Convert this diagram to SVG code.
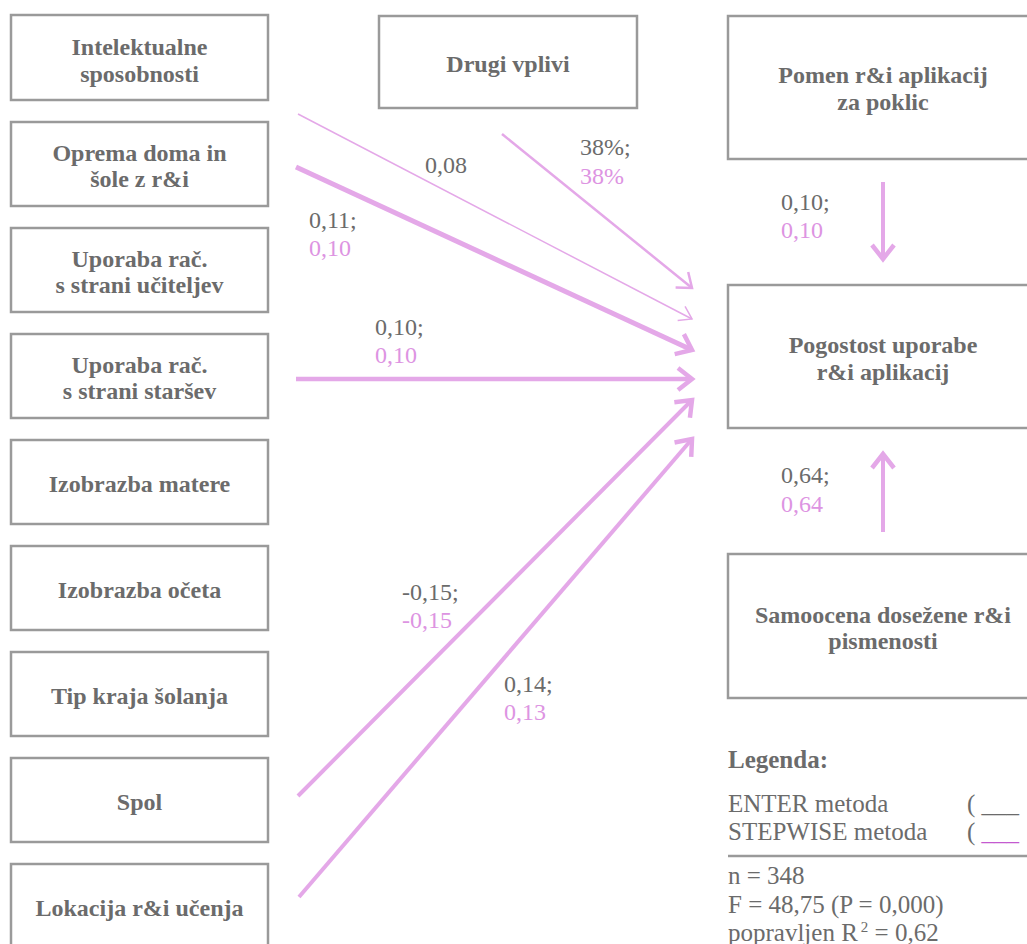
<svg xmlns="http://www.w3.org/2000/svg" width="1027" height="944" viewBox="0 0 1027 944">
<defs>
<style>
.box{fill:#fff;stroke:#9a9a9a;stroke-width:2.5}
.bt{font-family:"Liberation Serif",serif;font-weight:bold;font-size:24px;fill:#6b6b6b;text-anchor:middle}
.lb{font-family:"Liberation Serif",serif;font-size:24px;fill:#6b6b6b}
.pk{fill:#dd94e2}
.ln{fill:none;stroke:#e4a8e8;stroke-linecap:butt}
.lg{font-family:"Liberation Serif",serif;font-size:25px;fill:#6b6b6b}
</style>
<marker id="ahThick" markerUnits="userSpaceOnUse" markerWidth="40" markerHeight="40" viewBox="-20 -20 40 40" refX="0" refY="0" orient="auto" overflow="visible">
<path d="M-14,-11 L0,0 L-14,11" fill="none" stroke="#e4a8e8" stroke-width="4.5"/>
</marker>
<marker id="ahMid" markerUnits="userSpaceOnUse" markerWidth="40" markerHeight="40" viewBox="-20 -20 40 40" refX="0" refY="0" orient="auto" overflow="visible">
<path d="M-13,-10 L0,0 L-13,10" fill="none" stroke="#e4a8e8" stroke-width="2.5"/>
</marker>
<marker id="ahThin" markerUnits="userSpaceOnUse" markerWidth="40" markerHeight="40" viewBox="-20 -20 40 40" refX="0" refY="0" orient="auto" overflow="visible">
<path d="M-12,-8 L0,0 L-12,8" fill="none" stroke="#e4a8e8" stroke-width="1.5"/>
</marker>
</defs>
<rect width="1027" height="944" fill="#fff"/>

<g id="n-intelektualne"><rect class="box" x="11" y="15" width="257" height="85"/><text class="bt" x="139.5" y="55">Intelektualne</text><text class="bt" x="139.5" y="82">sposobnosti</text></g>
<g id="n-oprema"><rect class="box" x="11" y="122" width="257" height="84"/><text class="bt" x="139.5" y="161">Oprema doma in</text><text class="bt" x="139.5" y="187">šole z r&amp;i</text></g>
<g id="n-ucitelji"><rect class="box" x="11" y="228" width="257" height="84"/><text class="bt" x="139.5" y="267">Uporaba rač.</text><text class="bt" x="139.5" y="293">s strani učiteljev</text></g>
<g id="n-starsi"><rect class="box" x="11" y="334" width="257" height="84"/><text class="bt" x="139.5" y="373">Uporaba rač.</text><text class="bt" x="139.5" y="399">s strani staršev</text></g>
<g id="n-mati"><rect class="box" x="11" y="440" width="257" height="84"/><text class="bt" x="139.5" y="492">Izobrazba matere</text></g>
<g id="n-oce"><rect class="box" x="11" y="546" width="257" height="84"/><text class="bt" x="139.5" y="598">Izobrazba očeta</text></g>
<g id="n-kraj"><rect class="box" x="11" y="652" width="257" height="84"/><text class="bt" x="139.5" y="704">Tip kraja šolanja</text></g>
<g id="n-spol"><rect class="box" x="11" y="758" width="257" height="84"/><text class="bt" x="139.5" y="810">Spol</text></g>
<g id="n-lokacija"><rect class="box" x="11" y="864" width="257" height="90"/><text class="bt" x="139.5" y="916">Lokacija r&amp;i učenja</text></g>

<g id="n-drugi"><rect class="box" x="379" y="16" width="258" height="92"/><text class="bt" x="508" y="72">Drugi vplivi</text></g>

<g id="n-pomen"><rect class="box" x="728" y="16" width="320" height="143"/><text class="bt" x="883" y="83">Pomen r&amp;i aplikacij</text><text class="bt" x="883" y="110">za poklic</text></g>
<g id="n-pogostost"><rect class="box" x="728" y="285" width="320" height="143"/><text class="bt" x="883" y="353">Pogostost uporabe</text><text class="bt" x="883" y="380">r&amp;i aplikacij</text></g>
<g id="n-samoocena"><rect class="box" x="728" y="554" width="320" height="144"/><text class="bt" x="883" y="623">Samoocena dosežene r&amp;i</text><text class="bt" x="883" y="649">pismenosti</text></g>

<g id="connectors">
<line class="ln" x1="298" y1="114" x2="692" y2="319" stroke-width="1.5" marker-end="url(#ahThin)"/>
<line class="ln" x1="296" y1="167" x2="692" y2="350" stroke-width="5" marker-end="url(#ahThick)"/>
<line class="ln" x1="502" y1="134" x2="692" y2="288" stroke-width="2.5" marker-end="url(#ahMid)"/>
<line class="ln" x1="296" y1="379" x2="692" y2="379" stroke-width="4.5" marker-end="url(#ahThick)"/>
<line class="ln" x1="298" y1="796" x2="692" y2="400" stroke-width="4" marker-end="url(#ahThick)"/>
<line class="ln" x1="299" y1="897" x2="692" y2="439" stroke-width="4" marker-end="url(#ahThick)"/>
<line class="ln" x1="883" y1="182" x2="883" y2="259" stroke-width="4" marker-end="url(#ahThick)"/>
<line class="ln" x1="883" y1="532" x2="883" y2="454" stroke-width="4" marker-end="url(#ahThick)"/>
</g>

<g id="labels">
<text class="lb" x="425" y="173">0,08</text>
<text class="lb" x="580" y="155">38%;</text><text class="lb pk" x="580" y="184">38%</text>
<text class="lb" x="309" y="228">0,11;</text><text class="lb pk" x="309" y="256">0,10</text>
<text class="lb" x="375" y="335">0,10;</text><text class="lb pk" x="375" y="363">0,10</text>
<text class="lb" x="402" y="600">-0,15;</text><text class="lb pk" x="402" y="628">-0,15</text>
<text class="lb" x="504" y="692">0,14;</text><text class="lb pk" x="504" y="720">0,13</text>
<text class="lb" x="781" y="210">0,10;</text><text class="lb pk" x="781" y="238">0,10</text>
<text class="lb" x="781" y="483">0,64;</text><text class="lb pk" x="781" y="512">0,64</text>
</g>

<g id="legend">
<text class="lg" x="728" y="768" font-weight="bold">Legenda:</text>
<text class="lg" x="728" y="812">ENTER metoda</text>
<text class="lg" x="967" y="812">( ___</text>
<text class="lg" x="728" y="840">STEPWISE metoda</text>
<text class="lg" x="967" y="840">( <tspan fill="#c45ad0">___</tspan></text>
<line x1="728" y1="856" x2="1027" y2="856" stroke="#9a9a9a" stroke-width="2.5"/>
<text class="lg" x="728" y="884">n = 348</text>
<text class="lg" x="728" y="913">F = 48,75 (P = 0,000)</text>
<text class="lg" x="728" y="941">popravljen R<tspan dx="3" dy="-9" font-size="15">2</tspan><tspan dy="9"> = 0,62</tspan></text>
</g>
</svg>
